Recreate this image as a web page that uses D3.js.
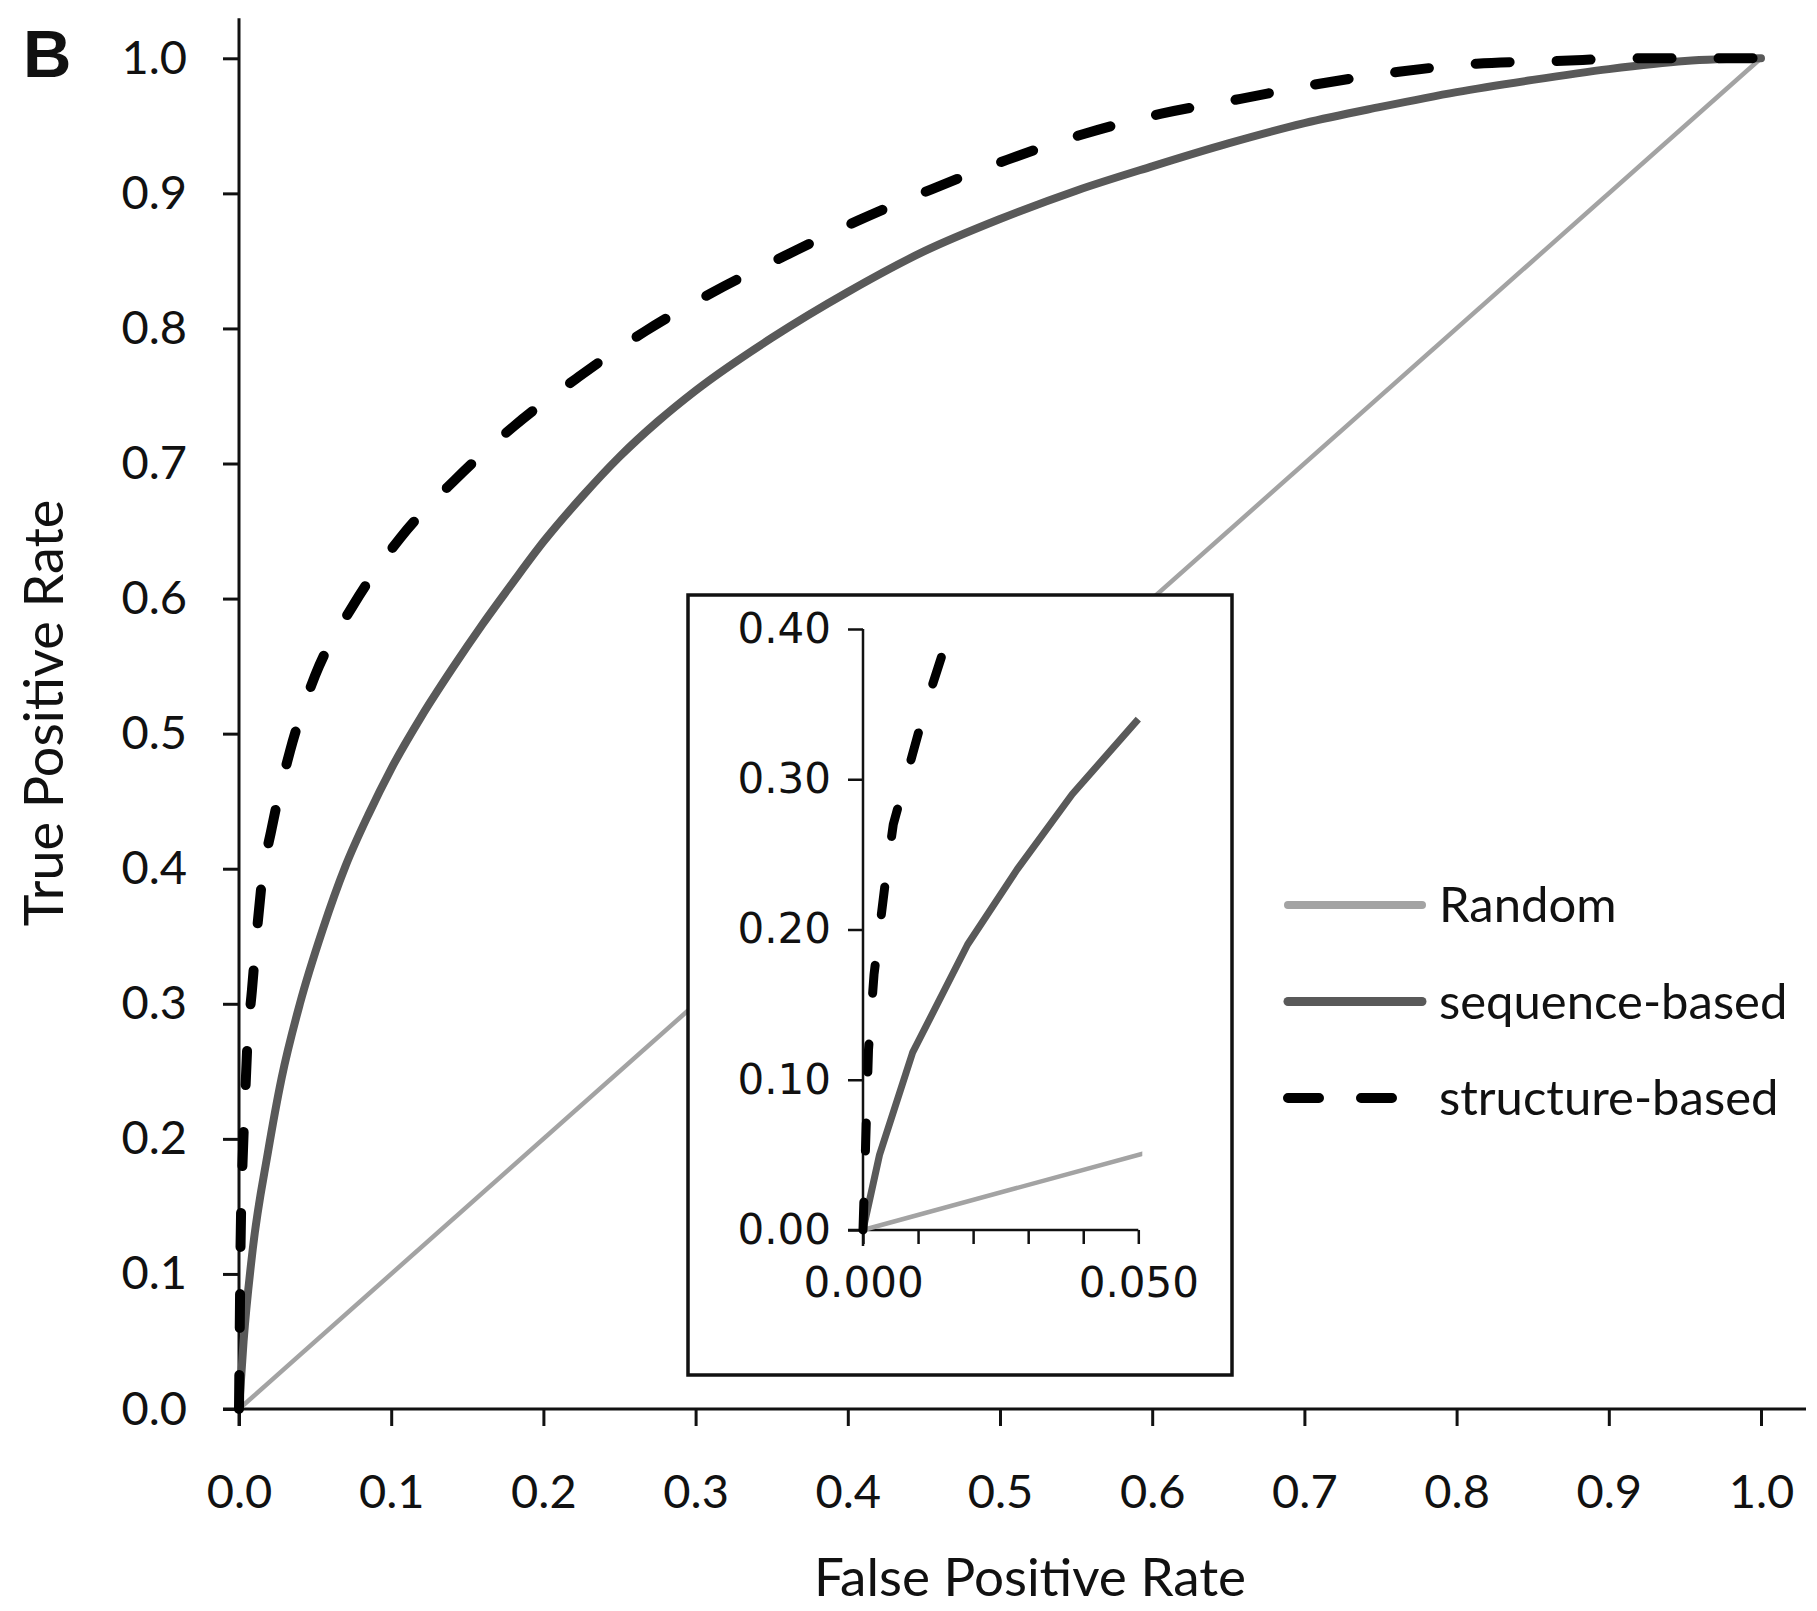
<!DOCTYPE html>
<html><head><meta charset="utf-8">
<script src="https://cdn.jsdelivr.net/npm/d3@7"></script>
<style>
body{margin:0;background:#fff}
svg{display:block}
</style>
</head><body>
<svg id="chart" width="1817" height="1611"></svg>
<script>
// ---------- data ----------
const xTickValues = [0,0.1,0.2,0.3,0.4,0.5,0.6,0.7,0.8,0.9,1.0];
const yTickValues = [0,0.1,0.2,0.3,0.4,0.5,0.6,0.7,0.8,0.9,1.0];
const insetXTickValues = [0,0.01,0.02,0.03,0.04,0.05];
const insetXTickLabels = ["0.000","","","","","0.050"];
const insetYTickValues = [0,0.1,0.2,0.3,0.4];
const seriesNames = ["Random","sequence-based","structure-based"];

const randomFPR = [0,1];
const randomTPR = [0,1];

const sequenceFPR = [0,0.003,0.009,0.019,0.028,0.04,0.055,0.07,0.085,0.1,0.12,0.14,0.16,0.18,0.2,0.225,0.25,0.275,0.3,0.35,0.4,0.45,0.5,0.55,0.6,0.65,0.7,0.75,0.8,0.85,0.9,0.95,1.0];
const sequenceTPR = [0,0.05,0.118,0.19,0.245,0.3,0.355,0.402,0.44,0.474,0.513,0.548,0.581,0.612,0.642,0.675,0.705,0.731,0.754,0.793,0.827,0.857,0.881,0.902,0.92,0.937,0.952,0.964,0.975,0.984,0.992,0.998,1.0];

const structureFPR = [0,0.0005,0.001,0.002,0.004,0.0055,0.0085,0.0115,0.015,0.0215,0.0335,0.05,0.075,0.106,0.142,0.181,0.223,0.267,0.31,0.359,0.407,0.455,0.505,0.555,0.606,0.658,0.709,0.762,0.813,0.865,0.92,1.0];
const structureTPR = [0,0.06,0.12,0.17,0.23,0.27,0.31,0.35,0.39,0.43,0.487,0.543,0.595,0.645,0.688,0.728,0.764,0.798,0.826,0.854,0.88,0.903,0.925,0.944,0.959,0.97,0.981,0.99,0.996,0.998,1.0,1.0];

// inset close-up of the sequence-based curve
const insetSequenceFPR = [0,0.003,0.009,0.019,0.028,0.038,0.05];
const insetSequenceTPR = [0,0.05,0.118,0.19,0.24,0.29,0.34];

// ---------- setup ----------
const FONT = "Lato, 'Open Sans', sans-serif";
const INSET_FONT = "'DejaVu Sans', Verdana, sans-serif";
const svg = d3.select('#chart');
const zip = (a,b) => a.map((v,i)=>[v,b[i]]);
const randomPts = zip(randomFPR, randomTPR);
const sequencePts = zip(sequenceFPR, sequenceTPR);
const structurePts = zip(structureFPR, structureTPR);
const insetSeqPts = zip(insetSequenceFPR, insetSequenceTPR);

const colRandom = '#a3a3a3', colSeq = '#595959', colStruct = '#000';

// main scales
const x = d3.scaleLinear().domain([0,1]).range([239,1761]);
const y = d3.scaleLinear().domain([0,1]).range([1409,58.3]);

// panel letter
svg.append('text').attr('x',23).attr('y',77)
  .attr('font-family',"'Liberation Sans', Arial, sans-serif").attr('font-weight','bold')
  .attr('font-size',67).attr('fill','#111').text('B');

// main axes
const gx = svg.append('g').attr('transform',`translate(0,${y(0)})`)
  .call(d3.axisBottom(x).tickValues(xTickValues).tickFormat(d3.format('.1f')).tickSize(17).tickPadding(49));
const gy = svg.append('g').attr('transform',`translate(${x(0)},0)`)
  .call(d3.axisLeft(y).tickValues(yTickValues).tickFormat(d3.format('.1f')).tickSize(16).tickPadding(36));
[gx,gy].forEach(g=>{
  g.select('.domain').remove();
  g.attr('font-family',FONT).attr('font-size',47);
  g.selectAll('.tick line').attr('stroke','#111').attr('stroke-width',3);
  g.selectAll('.tick text').attr('fill','#111');
});
svg.append('line').attr('x1',x(0)-16).attr('x2',x(1)+45).attr('y1',y(0)).attr('y2',y(0))
  .attr('stroke','#111').attr('stroke-width',3);
svg.append('line').attr('x1',x(0)).attr('x2',x(0)).attr('y1',y(1)-40).attr('y2',y(0)+17)
  .attr('stroke','#111').attr('stroke-width',3);

// axis titles
svg.append('text').attr('x',1030).attr('y',1596).attr('text-anchor','middle')
  .attr('font-family',FONT).attr('font-size',53).attr('fill','#111').text('False Positive Rate');
svg.append('text').attr('transform','translate(63,713) rotate(-90)').attr('text-anchor','middle')
  .attr('font-family',FONT).attr('font-size',54).attr('fill','#111').text('True Positive Rate');

// main lines
const lineMain = d3.line().x(d=>x(d[0])).y(d=>y(d[1])).curve(d3.curveMonotoneX);
svg.append('path').datum(randomPts).attr('d',lineMain).attr('fill','none')
  .attr('stroke',colRandom).attr('stroke-width',4.5);
svg.append('path').datum(sequencePts).attr('d',lineMain).attr('fill','none')
  .attr('stroke',colSeq).attr('stroke-width',8).attr('stroke-linejoin','round').attr('stroke-linecap','round');
svg.append('path').datum(structurePts).attr('d',lineMain).attr('fill','none')
  .attr('stroke',colStruct).attr('stroke-width',10).attr('stroke-dasharray','34,47')
  .attr('stroke-linecap','round');

// ---------- inset ----------
svg.append('rect').attr('x',688).attr('y',595).attr('width',544).attr('height',780)
  .attr('fill','#fff').attr('stroke','#111').attr('stroke-width',3.5);

const xi = d3.scaleLinear().domain([0,0.05]).range([863,1138.3]);
const yi = d3.scaleLinear().domain([0,0.4]).range([1230,629]);

const gxi = svg.append('g').attr('transform',`translate(0,${yi(0)})`)
  .call(d3.axisBottom(xi).tickValues(insetXTickValues).tickFormat((d,i)=>insetXTickLabels[i]).tickSize(14).tickPadding(23));
const gyi = svg.append('g').attr('transform',`translate(${xi(0)},0)`)
  .call(d3.axisLeft(yi).tickValues(insetYTickValues).tickFormat(d3.format('.2f')).tickSize(15).tickPadding(17));
[gxi,gyi].forEach(g=>{
  g.select('.domain').remove();
  g.attr('font-family',INSET_FONT).attr('font-size',42);
  g.selectAll('.tick line').attr('stroke','#111').attr('stroke-width',2.5);
  g.selectAll('.tick text').attr('fill','#111');
});
svg.append('line').attr('x1',xi(0)-15).attr('x2',xi(0.05)).attr('y1',yi(0)).attr('y2',yi(0))
  .attr('stroke','#111').attr('stroke-width',2.5);
svg.append('line').attr('x1',xi(0)).attr('x2',xi(0)).attr('y1',yi(0.4)).attr('y2',yi(0)+16)
  .attr('stroke','#111').attr('stroke-width',2.5);

svg.append('clipPath').attr('id','insetClip').append('rect')
  .attr('x',xi(0)-10).attr('y',yi(0.4)).attr('width',xi(0.05)-xi(0)+14).attr('height',yi(0)-yi(0.4)+5);
const gInset = svg.append('g').attr('clip-path','url(#insetClip)');
const lineInset = d3.line().x(d=>xi(d[0])).y(d=>yi(d[1]));
const inWin = pts => pts.filter((d,i)=> d[0] <= 0.05 || (i>0 && pts[i-1][0] < 0.05));
gInset.append('path').datum(randomPts).attr('d',lineInset).attr('fill','none')
  .attr('stroke',colRandom).attr('stroke-width',4.5);
gInset.append('path').datum(insetSeqPts).attr('d',lineInset).attr('fill','none')
  .attr('stroke',colSeq).attr('stroke-width',7).attr('stroke-linejoin','round');
gInset.append('path').datum(inWin(structurePts)).attr('d',lineInset).attr('fill','none')
  .attr('stroke',colStruct).attr('stroke-width',9).attr('stroke-dasharray','28,51')
  .attr('stroke-linecap','round');

// ---------- legend ----------
const legendRows = [
  {name: seriesNames[0], color: colRandom, width: 8, dash: null, y: 905},
  {name: seriesNames[1], color: colSeq, width: 9, dash: null, y: 1001.5},
  {name: seriesNames[2], color: colStruct, width: 10, dash: '31,42', y: 1098}
];
const lg = svg.append('g');
legendRows.forEach(r=>{
  const l = lg.append('line').attr('x1',1288).attr('x2',1422).attr('y1',r.y).attr('y2',r.y)
    .attr('stroke',r.color).attr('stroke-width',r.width).attr('stroke-linecap','round');
  if (r.dash) l.attr('stroke-dasharray',r.dash);
  lg.append('text').attr('x',1439).attr('y',r.y).attr('dy','0.35em')
    .attr('font-family',FONT).attr('font-size',49).attr('fill','#111').text(r.name);
});
</script>
</body></html>
